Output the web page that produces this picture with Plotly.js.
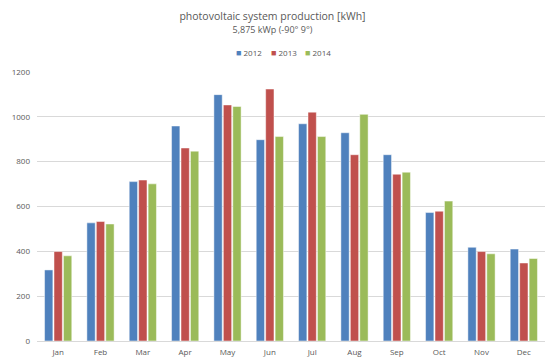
<!DOCTYPE html>
<html>
<head>
<meta charset="utf-8">
<script src="https://cdn.plot.ly/plotly-3.0.1.min.js"></script>
<style>
  html, body { margin: 0; padding: 0; background: #ffffff; }
  #chart { width: 545px; height: 358px; }
</style>
</head>
<body>
<div id="chart"></div>
<script>
// Monthly PV yield in kWh per year
const months = ["Jan", "Feb", "Mar", "Apr", "May", "Jun", "Jul", "Aug", "Sep", "Oct", "Nov", "Dec"];
const years = ["2012", "2013", "2014"];
const prod2012 = [317, 527, 711, 959, 1099, 898, 969, 929, 831, 573, 418, 410];
const prod2013 = [399, 533, 718, 861, 1053, 1124, 1021, 831, 744, 579, 399, 348];
const prod2014 = [380, 522, 701, 847, 1046, 912, 912, 1011, 753, 624, 389, 368];
const yTicks = [0, 200, 400, 600, 800, 1000, 1200];

const seriesColors = ["#4F81BD", "#C0504D", "#9BBB59"];
const seriesValues = [prod2012, prod2013, prod2014];

const W = 545, H = 358;
const M = { l: 37, r: 0, t: 72, b: 17 };
const plotW = W - M.l - M.r, plotH = H - M.t - M.b;
// pixel -> paper helpers for the compact legend row
const px = x => (x - M.l) / plotW;
const py = y => (H - M.b - y) / plotH;

const traces = years.map((yr, i) => ({
  type: "bar",
  name: yr,
  x: months,
  y: seriesValues[i],
  marker: {
    color: seriesColors[i],
    line: { color: "rgba(255,255,255,0.6)", width: 0.8 }
  },
  showlegend: false,
  hoverinfo: "x+y+name"
}));

// compact legend: small colour square followed by the year
const legendX = [234, 269, 303];
const legendAnnotations = years.map((yr, i) => ({
  xref: "paper", yref: "paper",
  x: px(legendX[i]), y: py(52),
  xanchor: "left", yanchor: "middle",
  showarrow: false,
  text: "<span style='color:" + seriesColors[i] + ";font-size:9px'>■</span> " + yr,
  font: { size: 8, color: "#595959" }
}));

const layout = {
  width: W,
  height: H,
  paper_bgcolor: "#ffffff",
  plot_bgcolor: "#ffffff",
  margin: M,
  font: { family: "Open Sans, Liberation Sans, sans-serif", color: "#595959", size: 8 },
  title: {
    text: "photovoltaic system production [kWh]<br><span style='font-size:9px'>5,875 kWp (-90° 9°)</span>",
    font: { size: 10.5, color: "#595959" },
    x: 0.5,
    xanchor: "center",
    y: 0.945,
    yanchor: "top"
  },
  barmode: "group",
  bargap: 0.33,
  bargroupgap: 0.12,
  showlegend: false,
  annotations: legendAnnotations,
  xaxis: {
    type: "category",
    showgrid: false,
    showline: true,
    linecolor: "#d9d9d9",
    linewidth: 1,
    ticks: "",
    tickfont: { size: 8, color: "#595959" },
    ticklabelstandoff: 3
  },
  yaxis: {
    range: [0, 1200],
    tickvals: yTicks,
    ticktext: yTicks.map(String),
    showgrid: true,
    gridcolor: "#d9d9d9",
    gridwidth: 1,
    zeroline: false,
    showline: false,
    ticks: "",
    tickfont: { size: 8, color: "#595959" },
    ticklabelstandoff: 6
  }
};

Plotly.newPlot("chart", traces, layout, { displayModeBar: false, staticPlot: true });
</script>
</body>
</html>
